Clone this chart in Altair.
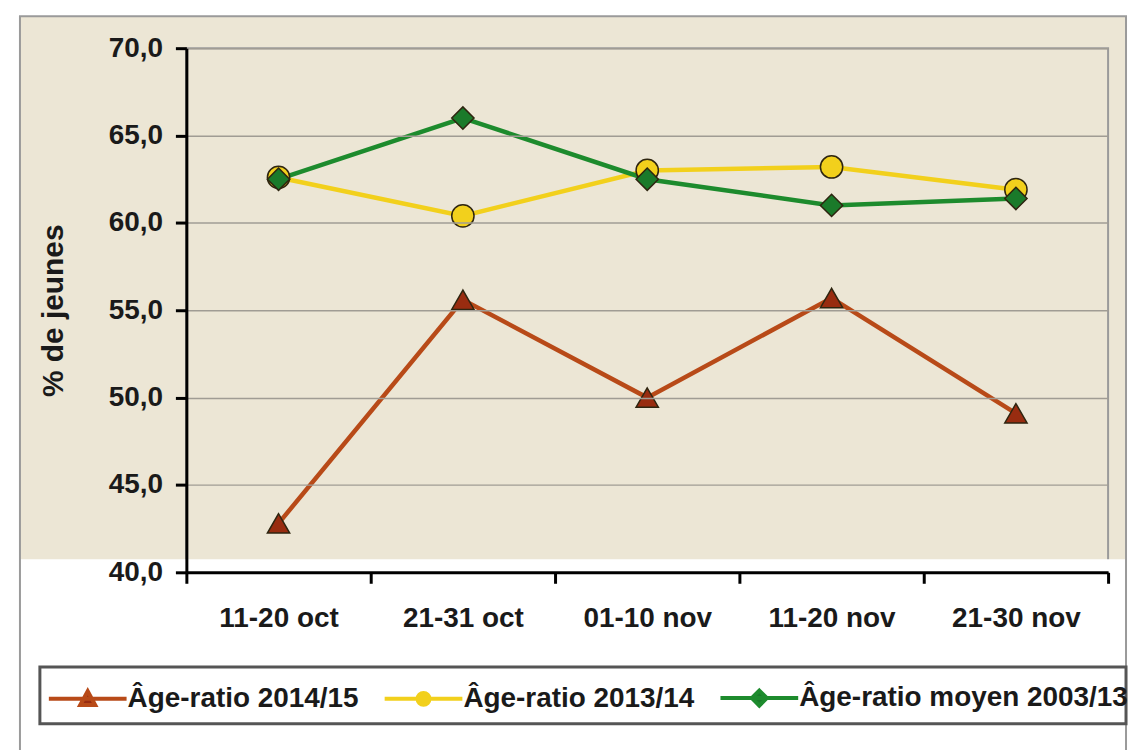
import altair as alt
import pandas as pd

periods = ["11-20 oct", "21-31 oct", "01-10 nov", "11-20 nov", "21-30 nov"]
series_names = ["Âge-ratio 2014/15", "Âge-ratio 2013/14", "Âge-ratio moyen 2003/13"]
ratio_2014_15 = [42.8, 55.6, 50.0, 55.7, 49.1]
ratio_2013_14 = [62.6, 60.4, 63.0, 63.2, 61.9]
ratio_moyen_2003_13 = [62.5, 66.0, 62.5, 61.0, 61.4]
y_ticks = [40, 45, 50, 55, 60, 65, 70]

line_colors = ["#B84A18", "#F2D01C", "#1D8B2D"]
marker_fills = ["#982C10", "#F2D01C", "#1A7A2A"]
marker_shapes = ["triangle-up", "circle", "diamond"]
legend_shapes = [
    "M-2.6,0H2.6M-0.5,0.42L0,-0.5L0.5,0.42Z",
    "M-2.6,0H2.6M-0.4,0A0.4,0.4 0 1,0 0.4,0A0.4,0.4 0 1,0 -0.4,0Z",
    "M-2.6,0H2.6M0,-0.5L0.5,0L0,0.5L-0.5,0Z",
]

rows = []
for name, vals in zip(series_names, [ratio_2014_15, ratio_2013_14, ratio_moyen_2003_13]):
    for p, v in zip(periods, vals):
        rows.append({"period": p, "series": name, "value": v})
df = pd.DataFrame(rows)
one = pd.DataFrame({"k": [0]})

FONT = "Liberation Sans"
W, H = 925, 526

x_enc = alt.X(
    "period:N", sort=periods,
    scale=alt.Scale(type="band", paddingInner=0, paddingOuter=0),
    axis=alt.Axis(title=None, labelAngle=0, tickBand="extent", grid=False,
                  labelFont=FONT, labelFontSize=28, labelFontWeight="bold", labelColor="#1a1a1a",
                  labelPadding=21, tickSize=11, tickWidth=3, tickColor="#000",
                  domainColor="#000", domainWidth=3, zindex=1),
)
y_enc = alt.Y(
    "value:Q", scale=alt.Scale(domain=[40, 70], nice=False, zero=False),
    axis=alt.Axis(values=y_ticks, title="% de jeunes",
                  labelExpr="replace(format(datum.value, '.1f'), '.', ',')",
                  labelFont=FONT, labelFontSize=28, labelFontWeight="bold", labelColor="#1a1a1a",
                  labelPadding=13, tickSize=11, tickWidth=3, tickColor="#000",
                  domainColor="#000", domainWidth=3,
                  grid=True, gridColor="#a09c94", gridWidth=1.5,
                  titleFont=FONT, titleFontSize=30, titleFontWeight="bold", titleColor="#1a1a1a",
                  titlePadding=40, zindex=1),
)

def deco(x, x2, y, y2, **kw):
    return alt.Chart(one).mark_rect(**kw).encode(
        x=alt.value(x), x2=alt.value(x2), y=alt.value(y), y2=alt.value(y2))

bottom_white = deco(-167, 943, 513, 720, fill="white")
left_strip = deco(-200, -167, -60, 720, fill="white")
top_strip = deco(-200, 980, -60, -32, fill="white")
right_strip = deco(943, 980, -60, 720, fill="white")
frame = deco(-167, 943, -32, 720, fill=None, stroke="#9a9a9a", strokeWidth=2, filled=False)
legend_box = deco(-147, 943, 621, 678, fill="white", stroke="#555555", strokeWidth=3)

lines = alt.Chart(df).mark_line(strokeWidth=4.5).encode(
    x=x_enc, y=y_enc,
    color=alt.Color("series:N", scale=alt.Scale(domain=series_names, range=line_colors), legend=None),
)
points = alt.Chart(df).mark_point(filled=True, size=500, stroke="#2e2510", strokeWidth=1.5, opacity=1).encode(
    x=x_enc, y=y_enc,
    fill=alt.Fill("series:N", scale=alt.Scale(domain=series_names, range=marker_fills), legend=None),
    shape=alt.Shape("series:N", scale=alt.Scale(domain=series_names, range=marker_shapes), legend=None),
)

leg = alt.Legend(orient="none", legendX=-140, legendY=635, direction="horizontal", title=None,
                 labelFont=FONT, labelFontSize=28, labelFontWeight="bold", labelColor="#1a1a1a",
                 labelLimit=600, symbolSize=900, symbolStrokeWidth=4, symbolOffset=24,
                 labelOffset=23, columnPadding=18, padding=0, symbolOpacity=1)

legend_layer = alt.Chart(df).transform_filter("false").mark_point(filled=True, size=900).encode(
    x=x_enc, y=y_enc,
    fill=alt.Fill("series:N", scale=alt.Scale(domain=series_names, range=marker_fills), legend=leg),
    stroke=alt.Stroke("series:N", scale=alt.Scale(domain=series_names, range=line_colors), legend=leg),
    shape=alt.Shape("series:N", scale=alt.Scale(domain=series_names, range=legend_shapes), legend=leg),
)

chart = alt.layer(
    bottom_white, left_strip, top_strip, right_strip, frame, legend_box,
    lines, points, legend_layer,
).resolve_scale(
    color="independent", fill="independent", stroke="independent", shape="independent"
).properties(
    width=W, height=H,
    background="#ECE6D5",
    autosize=alt.AutoSizeParams(type="none"),
    padding={"left": 179, "top": 39, "right": 24, "bottom": 177},
).configure_view(stroke="#9a9a9a", strokeWidth=2)

chart.save("out.html", embed_options={"renderer": "svg", "actions": False})
